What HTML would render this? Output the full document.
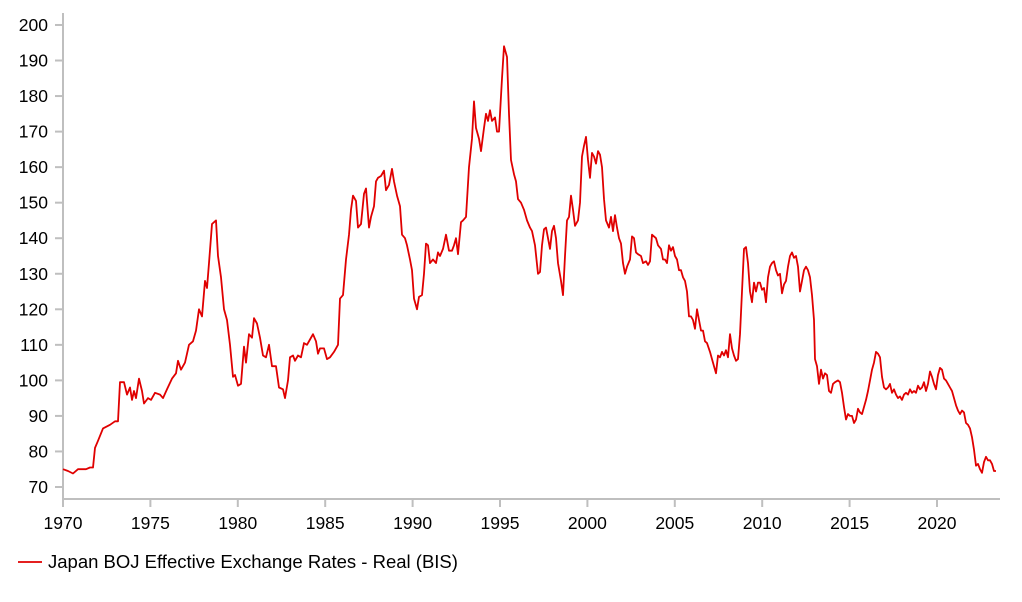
<!DOCTYPE html>
<html><head><meta charset="utf-8"><style>
body{margin:0;background:#fff;width:1022px;height:597px;overflow:hidden}
svg{font-family:"Liberation Sans",Arial,sans-serif}
</style></head><body>
<svg id="s" width="1022" height="597" viewBox="0 0 1022 597">
<g stroke="#bfbfbf" stroke-width="2" fill="none">
<line x1="63" y1="13" x2="63" y2="499"/>
<line x1="62" y1="499" x2="1000" y2="499"/>
</g>
<g id="ticks" stroke="#bfbfbf" stroke-width="2"></g>
<g id="ylab" font-size="17.5" fill="#000" text-anchor="end"></g>
<g id="xlab" font-size="17.5" fill="#000" text-anchor="middle"></g>
<path id="p" fill="none" stroke="#e00000" stroke-width="1.8" stroke-linejoin="round"/>
<line x1="18" y1="562" x2="42" y2="562" stroke="#e00000" stroke-width="1.8"/>
<text x="48" y="568" font-size="18.5" fill="#000">Japan BOJ Effective Exchange Rates - Real (BIS)</text>
</svg>
<script>
var ns="http://www.w3.org/2000/svg";
function Y(v){return 487-(v-70)*3.554;}
var t=document.getElementById('ticks'),yl=document.getElementById('ylab'),xl=document.getElementById('xlab');
for(var v=70;v<=200;v+=10){var y=Y(v);var l=document.createElementNS(ns,'line');l.setAttribute('x1',55);l.setAttribute('x2',63);l.setAttribute('y1',y);l.setAttribute('y2',y);t.appendChild(l);
var tx=document.createElementNS(ns,'text');tx.setAttribute('x',48);tx.setAttribute('y',y+6);tx.textContent=v;yl.appendChild(tx);}
for(var yr=1970;yr<=2020;yr+=5){var x=63+(yr-1970)*17.48;var l=document.createElementNS(ns,'line');l.setAttribute('x1',x);l.setAttribute('x2',x);l.setAttribute('y1',499);l.setAttribute('y2',507);t.appendChild(l);
var tx=document.createElementNS(ns,'text');tx.setAttribute('x',x);tx.setAttribute('y',529);tx.textContent=yr;xl.appendChild(tx);}
var d=[63,75,68,74.5,73,73.8,78,75,86,75,90,75.5,93,75.5,95,81,98,83,103,86.5,110,87.5,115,88.5,118,88.5,120,99.5,124,99.5,127,96,130,98,132,94.5,134,97,136,95,139,100.5,142,97,144,93.5,148,95,151,94.5,155,96.5,160,96,163,95,167,97.5,172,100.5,176,102,178,105.5,181,103,185,105,189,110,193,111,196,114,199,120,202,118,205,128,207,126,209,133,212,144,216,145,218,135,221,129,224,120,227,117,230,110,233,101,235,101.5,238,98.5,241,99,244,109.5,246,105,249,113,252,112,254,117.5,257,116,260,112,263,107,266,106.5,269,110,272,104,276,104,279,98,283,97.5,285,95,288,100,290,106.5,293,107,295,105.5,298,107,301,106.5,304,110.5,307,110,310,111.5,313,113,316,111,318,107.5,320,109,324,109,327,106,330,106.5,334,108,338,110,340,123,343,124,346,134,349,141,351,148,353,152,356,150.5,358,143,361,144,364,152.5,366,154,369,143,371,146,374,149,376,156,378,157,381,157.5,384,159,386,153.5,389,155,392,159.5,394,156,397,152,400,149,402,141,405,140,407,138,410,134,412,131,414,123,417,120,419,123.5,422,124,424,130,426,138.5,428,138,430,133,433,134,436,133,438,136,440,135,443,137,446,141,449,136.5,452,136.5,454,138,456,140,458,135.5,461,144.5,463,145,466,146,469,160,472,168,474,178.5,476,171,479,168,481,164.5,484,171,486,175,488,173,490,176,492,173,495,174,497,170,499,170,502,185,504,194,507,191,509,175,511,162,514,158,516,156,518,151,521,150,524,148,527,145,530,143,532,142,535,138,538,130,540,130.5,542,138,544,142.5,546,143,548,140,550,137,552,142,554,143.5,556,140,558,133,561,128,563,124,565,135,567,145,569,146,571,152,573,148,575,143.5,578,145,580,150,582,163,584,166,586,168.5,588,162,590,157,592,164,594,163,596,161,598,164.5,600,163.5,602,160,604,151,606,145,609,143,611,146,613,142,615,146.5,617,143,619,140,621,138.5,623,133,625,130,627,132,630,134,632,140.5,634,140,636,136,638,135.5,641,135,643,133,646,133.5,648,132.5,650,133.5,652,141,654,140.5,656,140,658,138,661,137,663,134,665,134,667,133,669,138,671,136.5,673,137.5,675,135,677,134,679,131,681,131,683,129,685,128,687,125,689,118,691,118,693,117,695,114.5,697,120,699,117,701,114,703,114,705,111,707,110.5,710,108,712,106,714,104,716,102,718,107,720,106.5,722,108,724,107,726,108.5,728,106.5,730,113,732,109,734,107,736,105.5,738,106,740,113,742,125,744,137,746,137.5,748,133,750,125,752,122,754,127.5,756,125,758,127.5,760,127.5,762,125.5,764,126,766,122,768,129,770,132,772,133,774,133.5,776,131,778,129.5,780,130,782,124.5,784,127,786,128,788,132,790,135,792,136,794,134.5,796,135,798,132,800,125,802,128,804,131,806,132,808,131,810,129,812,124,814,117,815,106,817,104,819,99,821,103,823,100.5,825,102,827,101.5,829,97,831,96.5,833,99,835,99.5,838,100,840,99.5,842,96.5,844,92.5,846,89,848,90.5,850,90,852,90,854,88,856,89,858,92,860,91,862,90.5,864,92.5,866,94.5,868,97,870,100,872,103,874,105,876,108,878,107.5,880,106.5,882,101,884,98,886,97.5,888,98,890,99,892,96.5,894,97.5,896,96,898,95,900,95.5,902,94.5,904,96,906,96.5,908,96,910,97.5,912,96.5,914,97,916,96.5,918,98.5,920,97.5,922,98,924,99.5,926,97,928,99,930,102.5,932,101,934,99,936,97.5,938,101.5,940,103.5,942,103,944,100.5,946,100,948,99,950,98,952,97,954,95,956,93,958,91.5,960,90.5,962,91.5,964,91,966,88,968,87.5,970,86.5,972,84,974,80.5,976,76,978,76.5,980,75,982,74,984,77,986,78.5,988,77.5,990,77.5,992,76.5,994,74.5,996,74.5];
var s="";for(var i=0;i<d.length;i+=2){s+=(i?"L":"M")+d[i]+","+Y(d[i+1]).toFixed(1);}
document.getElementById('p').setAttribute('d',s);
</script>
</body></html>
